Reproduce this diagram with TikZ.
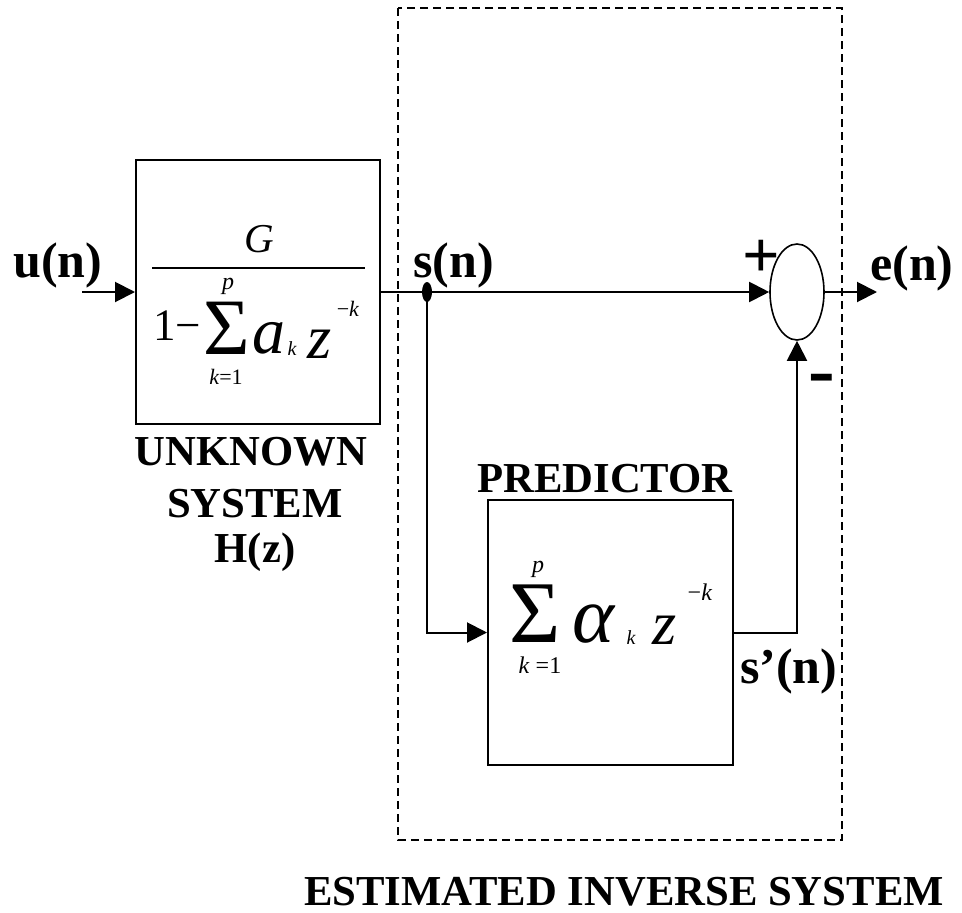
\documentclass[tikz,border=0pt]{standalone}
\usepackage{fontspec}
\setmainfont{Liberation Serif}
\usetikzlibrary{arrows.meta,shapes.geometric}
\newcommand{\fs}[1]{\fontsize{#1}{#1}\selectfont}
\tikzset{
  lbl/.style={font=\bfseries\fs{50}, inner sep=0, anchor=base west},
  capt/.style={font=\bfseries\fs{42.7}, inner sep=0, anchor=base},
  blk/.style={draw, line width=2pt, rectangle, inner sep=0},
  wire/.style={line width=2pt},
  arr/.style={line width=2pt, -{Triangle[length=20pt,width=20pt]}},
  mth/.style={inner sep=0, anchor=center},
  it/.style={mth, font=\itshape\fs{#1}},
  rm/.style={mth, font=\fs{#1}},
  frame/.style={line width=1.6pt, dash pattern=on 8pt off 5pt}
}
\begin{document}
\begin{tikzpicture}[x=1pt,y=-1pt]
\useasboundingbox (0,0) rectangle (962,913);
% dashed frame
\draw[frame] (398,8) rectangle (842,840);
% blocks
\node[blk, minimum width=244pt, minimum height=264pt] (H) at (258,292) {};
\node[blk, minimum width=245pt, minimum height=265pt] (P) at (610.5,632.5) {};
\node[draw, ellipse, line width=1.6pt, minimum width=54pt, minimum height=96pt, inner sep=0] (sum) at (797,292) {};
\node[fill, ellipse, minimum width=10pt, minimum height=20pt, inner sep=0] (dot) at (427,292) {};
\coordinate (uin) at (82,292);
\coordinate (eout) at (877,292);
% H(z) formula
\node[it=41, anchor=base] (G) at (259,252) {G};
\draw[line width=1.5pt] (152,268) -- (365,268);
\node[rm=45, anchor=base west] (one) at (153,340) {1−};
\node[rm=80] (sig1) at (227,328) {Σ};
\node[it=24] (p1) at (228,286) {p};
\node[mth, font=\fs{22}] (lim1) at (226,377) {\textit{k}=1};
\node[it=66] (a1) at (269,338) {a};
\node[it=20] (k1) at (292,349) {k};
\node[it=62] (z1) at (320,344) {z};
\node[rm=22] (e1) at (348,309) {−\textit{k}};
% predictor formula
\node[rm=88] (sig2) at (535,614) {Σ};
\node[it=24] (p2) at (538,569) {p};
\node[mth, font=\fs{24}] (lim2) at (540,665) {\textit{k} =1};
\node[it=80] (al) at (593,624) {α};
\node[it=20] (k2) at (631,638) {k};
\node[it=62] (z2) at (665,630) {z};
\node[rm=24] (e2) at (700,592) {−\textit{k}};
% connectors
\draw[arr] (uin) -- (H.west);
\draw[arr] (H.east) -- (sum.west);
\draw[arr] (dot.center) |- (P.west);
\draw[arr] (P.east) -| (sum.south);
\draw[arr] (sum.east) -- (eout);
% labels
\node[lbl] (u) at (13,277) {u(n)};
\node[lbl] (s) at (413,277) {s(n)};
\node[lbl] (e) at (870,280) {e(n)};
\node[lbl] (sp) at (740,683) {s’(n)};
\node[mth, font=\bfseries\fs{66}] (plus) at (761,259) {+};
\node[mth, font=\bfseries\fs{80}] (minus) at (822,385) {-};
\node[capt] (t1) at (251,465) {UNKNOWN};
\node[capt] (t2) at (255,517) {SYSTEM};
\node[capt] (t3) at (255,562) {H(z)};
\node[capt] (t4) at (605,492) {PREDICTOR};
\node[capt] (t5) at (624,905) {ESTIMATED INVERSE SYSTEM};
\end{tikzpicture}
\end{document}
